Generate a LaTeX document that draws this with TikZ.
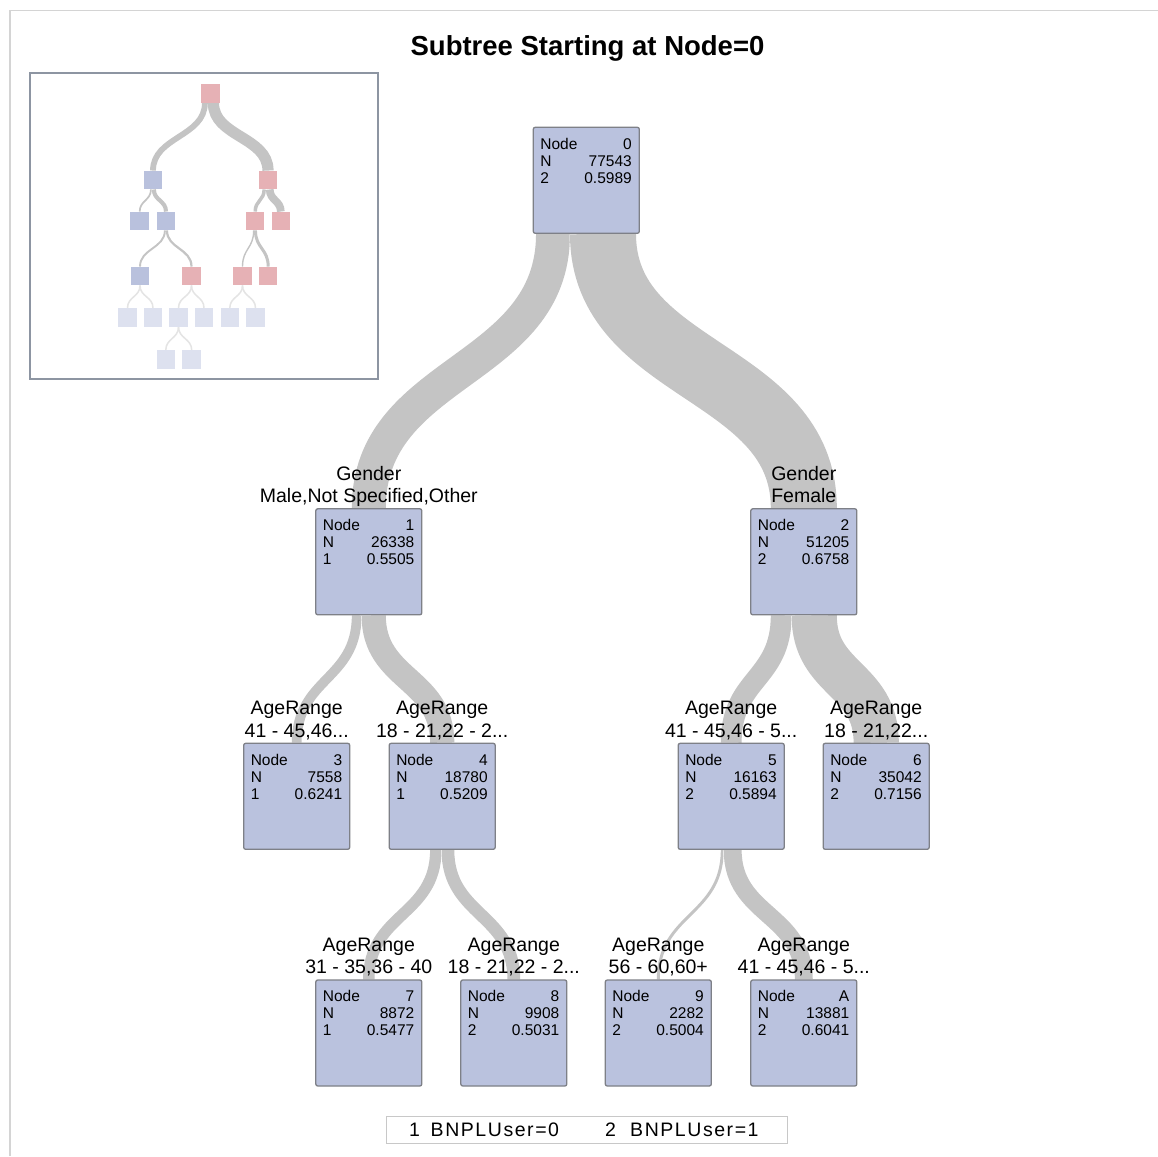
\documentclass[tikz,border=0pt]{standalone}
\usepackage{fontspec}
\setmainfont{Liberation Sans}
\newfontfamily\legfont[LetterSpace=8]{Liberation Sans}
\usetikzlibrary{calc}
\pgfdeclarelayer{bg}
\pgfsetlayers{bg,main}
\definecolor{boxfill}{HTML}{BAC2DE}
\definecolor{boxdraw}{HTML}{7E8087}
\definecolor{bandc}{HTML}{C4C4C4}
\definecolor{insred}{HTML}{E6B1B5}
\definecolor{insblue}{HTML}{B9C1DD}
\definecolor{insfade}{HTML}{DDE1EF}
\definecolor{insframe}{HTML}{8D95A2}
\definecolor{outerc}{HTML}{D4D4D4}
\definecolor{legc}{HTML}{C8C8C8}
\definecolor{fadeband}{HTML}{E4E4E4}
\newcommand\tbox[7]{%
  \node[tn] (#1) at (#2,#3) {};
  \node[nt, anchor=base west] (#1-a) at ($(#1.north west)+(7.5,22.5)$) {Node};
  \node[nt, anchor=base east] (#1-b) at ($(#1.north east)+(-8,22.5)$) {#4};
  \node[nt, anchor=base west] (#1-c) at ($(#1.north west)+(7.5,39.5)$) {N};
  \node[nt, anchor=base east] (#1-d) at ($(#1.north east)+(-8,39.5)$) {#5};
  \node[nt, anchor=base west] (#1-e) at ($(#1.north west)+(7.5,56.5)$) {#6};
  \node[nt, anchor=base east] (#1-f) at ($(#1.north east)+(-8,56.5)$) {#7};
}
\newcommand\tlab[3]{%
  \node[lab] (#1-l1) at ($(#1.north)+(0,-28)$) {#2};
  \node[lab] (#1-l2) at ($(#1.north)+(0,-5.5)$) {#3};
}
\newcommand\bandto[5]{\draw[band=#1] ($(#2.south)+(#3,0)$) .. controls +(0,#5) and +(0,-#5) .. (#4.north);}
\newcommand\iband[6]{\draw[draw=#6, line width=#1] ($(#2.south)+(#3,0)$) .. controls +(0,#5) and +(0,-#5) .. (#4.north);}
\begin{document}
\begin{tikzpicture}[x=1pt,y=-1pt,
  tn/.style={draw=boxdraw, fill=boxfill, line width=1.3pt, rounded corners=2pt,
    minimum width=106pt, minimum height=106pt, inner sep=0pt},
  nt/.style={font=\fontsize{15.5}{17}\selectfont, inner sep=0pt},
  lab/.style={font=\fontsize{19.5}{22}\selectfont, inner sep=0pt, anchor=base},
  legt/.style={font=\legfont\fontsize{19.5}{22}\selectfont, inner sep=0pt, anchor=base west},
  band/.style={draw=white, line width=0.4pt, double=bandc, double distance=#1},
  isq/.style={fill=#1, minimum size=18.5pt, inner sep=0pt}]
\useasboundingbox (0,0) rectangle (1158,1156);
\draw[outerc, line width=1.5pt] (10,1156) -- (10,10.5) -- (1158,10.5);
\node[font=\bfseries\fontsize{27.5}{30}\selectfont, anchor=base, inner sep=0pt] (title) at (587.5,56) {Subtree Starting at Node=0};
% inset overview
\node[draw=insframe, line width=1.5pt, minimum width=348pt, minimum height=306pt, inner sep=0pt] (inset) at (204,226) {};
\node[isq=insred] (i0) at (210.5,93.5) {};
\node[isq=insblue] (i1) at (153,180) {};
\node[isq=insred] (i2) at (268,180) {};
\node[isq=insblue] (i3) at (139.7,221) {};
\node[isq=insblue] (i4) at (166,221) {};
\node[isq=insred] (i5) at (255.2,221) {};
\node[isq=insred] (i6) at (280.8,221) {};
\node[isq=insblue] (i7) at (140,276) {};
\node[isq=insred] (i8) at (191.5,276) {};
\node[isq=insred] (i9) at (242.5,276) {};
\node[isq=insred] (iA) at (268.2,276) {};
\node[isq=insfade] (f1) at (127.5,317.5) {};
\node[isq=insfade] (f2) at (153,317.5) {};
\node[isq=insfade] (f3) at (178.5,317.5) {};
\node[isq=insfade] (f4) at (204,317.5) {};
\node[isq=insfade] (f5) at (229.8,317.5) {};
\node[isq=insfade] (f6) at (255.5,317.5) {};
\node[isq=insfade] (g1) at (165.8,359.5) {};
\node[isq=insfade] (g2) at (191.7,359.5) {};
% main tree boxes
\tbox{n0}{586.3}{180.3}{0}{77543}{2}{0.5989}
\tbox{n1}{368.8}{561.8}{1}{26338}{1}{0.5505}
\tbox{n2}{803.8}{561.8}{2}{51205}{2}{0.6758}
\tbox{n3}{296.7}{796.3}{3}{7558}{1}{0.6241}
\tbox{n4}{442.2}{796.3}{4}{18780}{1}{0.5209}
\tbox{n5}{731.2}{796.3}{5}{16163}{2}{0.5894}
\tbox{n6}{876.2}{796.3}{6}{35042}{2}{0.7156}
\tbox{n7}{368.8}{1033}{7}{8872}{1}{0.5477}
\tbox{n8}{513.8}{1033}{8}{9908}{2}{0.5031}
\tbox{n9}{658.3}{1033}{9}{2282}{2}{0.5004}
\tbox{nA}{803.8}{1033}{A}{13881}{2}{0.6041}
\tlab{n1}{Gender}{Male,Not Specified,Other}
\tlab{n2}{Gender}{Female}
\tlab{n3}{AgeRange}{41 - 45,46...}
\tlab{n4}{AgeRange}{18 - 21,22 - 2...}
\tlab{n5}{AgeRange}{41 - 45,46 - 5...}
\tlab{n6}{AgeRange}{18 - 21,22...}
\tlab{n7}{AgeRange}{31 - 35,36 - 40}
\tlab{n8}{AgeRange}{18 - 21,22 - 2...}
\tlab{n9}{AgeRange}{56 - 60,60+}
\tlab{nA}{AgeRange}{41 - 45,46 - 5...}
% legend
\node[draw=legc, line width=1pt, minimum width=401pt, minimum height=27pt, inner sep=0pt] (leg) at (586.5,1129.5) {};
\node[legt] (leg1) at (409,1136) {1};
\node[legt] (leg2) at (430.5,1136) {BNPLUser=0};
\node[legt] (leg3) at (605,1136) {2};
\node[legt] (leg4) at (630,1136) {BNPLUser=1};
% bands behind everything
\begin{pgfonlayer}{bg}
\fill[white] (0,0) rectangle (1158,1156);
\iband{5.8pt}{i0}{-5.6}{i1}{34}{bandc}
\iband{11.2pt}{i0}{2.9}{i2}{34}{bandc}
\iband{1.7pt}{i1}{-2.05}{i3}{11}{bandc}
\iband{4.1pt}{i1}{0.85}{i4}{11}{bandc}
\iband{3.5pt}{i2}{-3.85}{i5}{11}{bandc}
\iband{7.7pt}{i2}{1.75}{i6}{11}{bandc}
\iband{1.9pt}{i4}{-1.1}{i7}{18}{bandc}
\iband{2.2pt}{i4}{0.95}{i8}{18}{bandc}
\iband{1.4pt}{i5}{-1.5}{i9}{18}{bandc}
\iband{3.0pt}{i5}{0.25}{iA}{18}{bandc}
\iband{1.5pt}{i7}{0}{f1}{11.5}{fadeband}
\iband{1.5pt}{i7}{0}{f2}{11.5}{fadeband}
\iband{1.5pt}{i8}{0}{f3}{11.5}{fadeband}
\iband{1.5pt}{i8}{0}{f4}{11.5}{fadeband}
\iband{1.5pt}{i9}{0}{f5}{11.5}{fadeband}
\iband{1.5pt}{i9}{0}{f6}{11.5}{fadeband}
\iband{1.5pt}{f3}{0}{g1}{11.5}{fadeband}
\iband{1.5pt}{f3}{0}{g2}{11.5}{fadeband}
\bandto{33.97pt}{n0}{-33.3}{n1}{140}
\bandto{66.03pt}{n0}{16.7}{n2}{140}
\bandto{9.75pt}{n1}{-12.1}{n3}{65}
\bandto{24.22pt}{n1}{4.9}{n4}{65}
\bandto{20.84pt}{n2}{-22.6}{n5}{65}
\bandto{45.19pt}{n2}{10.4}{n6}{65}
\bandto{11.44pt}{n4}{-6.4}{n7}{66}
\bandto{12.78pt}{n4}{5.7}{n8}{66}
\bandto{2.94pt}{n5}{-8.95}{n9}{66}
\bandto{17.9pt}{n5}{1.47}{nA}{66}
\end{pgfonlayer}
\end{tikzpicture}
\end{document}
